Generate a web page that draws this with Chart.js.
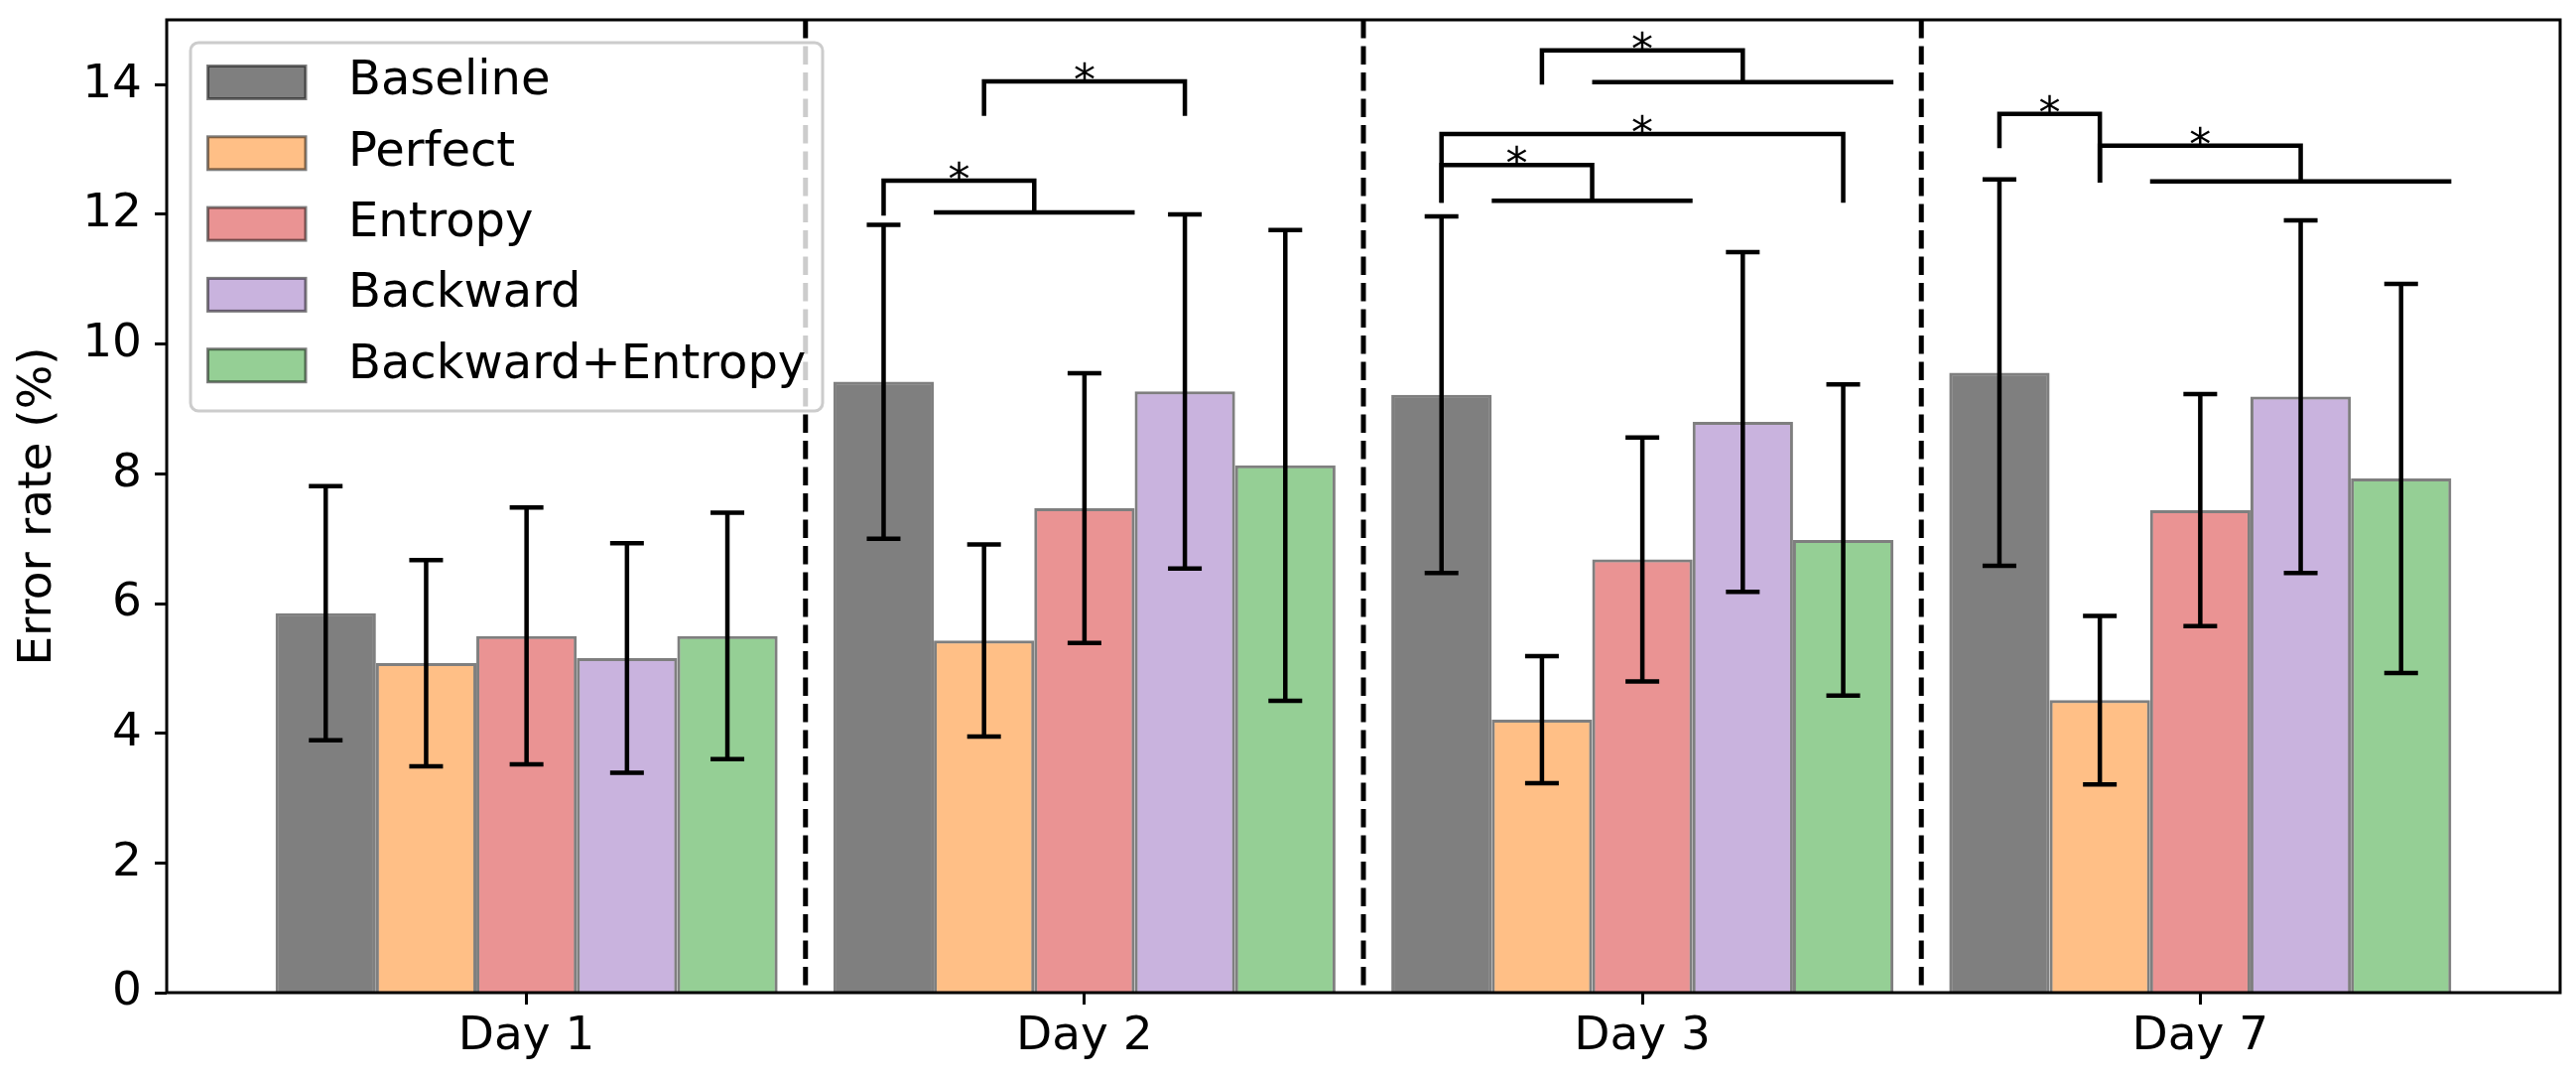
<!DOCTYPE html>
<html>
<head>
<meta charset="utf-8">
<title>Error rate by day</title>
<script src="https://cdn.jsdelivr.net/npm/chart.js@4.4.1/dist/chart.umd.min.js"></script>
<style>
  html, body { margin: 0; padding: 0; background: #fff; }
  #chart { display: block; }
</style>
</head>
<body>
<canvas id="chart" width="2596" height="1087"></canvas>
<script>
// categories (x positions 0..3 on a linear axis, so the margins match the original)
const days = ['Day 1', 'Day 2', 'Day 3', 'Day 7'];
const dayPos = [0, 1, 2, 3];
const separators = [0.5, 1.5, 2.5];
const yTicks = [0, 2, 4, 6, 8, 10, 12, 14];

const methods = ['Baseline', 'Perfect', 'Entropy', 'Backward', 'Backward+Entropy'];

// mean error rate (%)
const baseline = [5.85, 9.42, 9.22, 9.56];
const perfect = [5.08, 5.43, 4.21, 4.51];
const entropy = [5.50, 7.47, 6.68, 7.44];
const backward = [5.16, 9.27, 8.80, 9.19];
const backwardEntropy = [5.50, 8.13, 6.98, 7.93];

// error bar half-length
const baselineErr = [1.96, 2.42, 2.75, 2.98];
const perfectErr = [1.59, 1.48, 0.98, 1.30];
const entropyErr = [1.98, 2.08, 1.88, 1.79];
const backwardErr = [1.77, 2.73, 2.62, 2.72];
const backwardEntropyErr = [1.90, 3.63, 2.40, 3.00];

// significance brackets, in data units:
// [x1, x2, top, leg1 end, leg2 end, group line from, group line to]
const brackets = [
  [0.64, 0.91, 12.52, 11.98, 12.03, 0.73, 1.09],
  [0.82, 1.18, 14.05, 13.52, 13.52, null, null],
  [1.82, 2.18, 14.53, 14.00, 14.04, 1.91, 2.45],
  [1.64, 2.36, 13.24, 12.18, 12.18, null, null],
  [1.64, 1.91, 12.76, 12.18, 12.21, 1.73, 2.09],
  [2.64, 2.82, 13.55, 13.02, 12.49, null, null],
  [2.82, 3.18, 13.06, 12.49, 12.51, 2.91, 3.45]
];

const means = [baseline, perfect, entropy, backward, backwardEntropy];
const errs = [baselineErr, perfectErr, entropyErr, backwardErr, backwardEntropyErr];
const fills = [
  'rgba(0, 0, 0, 0.5)',
  'rgba(255, 127, 14, 0.5)',
  'rgba(214, 39, 40, 0.5)',
  'rgba(148, 103, 189, 0.5)',
  'rgba(44, 160, 44, 0.5)'
];
const edge = 'rgba(0, 0, 0, 0.5)';
const FONT = { family: 'DejaVu Sans', size: 47 };

Chart.defaults.font.family = FONT.family;
Chart.defaults.color = '#000';

const datasets = methods.map((m, i) => ({
  label: m,
  data: dayPos.map((x, j) => ({ x: x, y: means[i][j] })),
  backgroundColor: fills[i],
  borderColor: edge,
  borderWidth: 3,
  categoryPercentage: 0.9,
  barPercentage: 1.0
}));

function noPad(s) {
  s.paddingTop = 0; s.paddingBottom = 0; s.paddingLeft = 0; s.paddingRight = 0;
}

const extras = {
  id: 'extras',
  afterDraw(chart) {
    const ctx = chart.ctx;
    const area = chart.chartArea;
    const xs = chart.scales.x, ys = chart.scales.y;
    ctx.save();

    // dashed day separators
    ctx.strokeStyle = '#000';
    ctx.lineWidth = 5;
    ctx.setLineDash([18.5, 8]);
    separators.forEach(v => {
      const px = xs.getPixelForValue(v);
      ctx.beginPath();
      ctx.moveTo(px, area.top);
      ctx.lineTo(px, area.bottom);
      ctx.stroke();
    });
    ctx.setLineDash([]);

    // error bars
    ctx.lineWidth = 4.5;
    datasets.forEach((ds, i) => {
      chart.getDatasetMeta(i).data.forEach((bar, j) => {
        const hi = ys.getPixelForValue(means[i][j] + errs[i][j]);
        const lo = ys.getPixelForValue(means[i][j] - errs[i][j]);
        ctx.beginPath();
        ctx.moveTo(bar.x, hi); ctx.lineTo(bar.x, lo);
        ctx.moveTo(bar.x - 17, hi); ctx.lineTo(bar.x + 17, hi);
        ctx.moveTo(bar.x - 17, lo); ctx.lineTo(bar.x + 17, lo);
        ctx.stroke();
      });
    });

    // significance brackets
    ctx.lineWidth = 4.5;
    ctx.lineCap = 'butt';
    brackets.forEach(b => {
      const x1 = xs.getPixelForValue(b[0]), x2 = xs.getPixelForValue(b[1]);
      const top = ys.getPixelForValue(b[2]);
      ctx.beginPath();
      ctx.moveTo(x1, ys.getPixelForValue(b[3]));
      ctx.lineTo(x1, top);
      ctx.lineTo(x2, top);
      ctx.lineTo(x2, ys.getPixelForValue(b[4]));
      ctx.stroke();
      if (b[5] !== null) {
        const gy = ys.getPixelForValue(b[4]);
        ctx.beginPath();
        ctx.moveTo(xs.getPixelForValue(b[5]), gy);
        ctx.lineTo(xs.getPixelForValue(b[6]), gy);
        ctx.stroke();
      }
      ctx.fillStyle = '#000';
      ctx.font = '44px "DejaVu Sans"';
      ctx.textAlign = 'center';
      ctx.textBaseline = 'alphabetic';
      ctx.fillText('*', (x1 + x2) / 2, top + 14);
    });

    // axes frame
    ctx.lineWidth = 3;
    ctx.strokeStyle = '#000';
    ctx.strokeRect(area.left, area.top, area.right - area.left, area.bottom - area.top);

    // legend
    const lx = area.left + 24, ly = area.top + 23, lw = 637, lh = 371, r = 8;
    ctx.beginPath();
    ctx.moveTo(lx + r, ly);
    ctx.arcTo(lx + lw, ly, lx + lw, ly + lh, r);
    ctx.arcTo(lx + lw, ly + lh, lx, ly + lh, r);
    ctx.arcTo(lx, ly + lh, lx, ly, r);
    ctx.arcTo(lx, ly, lx + lw, ly, r);
    ctx.closePath();
    ctx.fillStyle = 'rgba(255, 255, 255, 0.8)';
    ctx.fill();
    ctx.strokeStyle = '#cccccc';
    ctx.lineWidth = 3;
    ctx.stroke();

    ctx.font = '48px "DejaVu Sans"';
    ctx.textAlign = 'left';
    ctx.textBaseline = 'middle';
    datasets.forEach((ds, i) => {
      const cy = ly + 40 + i * 71.3;
      ctx.fillStyle = ds.backgroundColor;
      ctx.fillRect(lx + 17.5, cy - 16.5, 98.5, 33);
      ctx.strokeStyle = ds.borderColor;
      ctx.lineWidth = 3;
      ctx.strokeRect(lx + 17.5, cy - 16.5, 98.5, 33);
      ctx.fillStyle = '#000';
      ctx.fillText(ds.label, lx + 159, cy);
    });
    ctx.restore();
  }
};

new Chart(document.getElementById('chart'), {
  type: 'bar',
  data: { datasets: datasets },
  options: {
    responsive: false,
    animation: false,
    devicePixelRatio: 1,
    layout: { padding: { top: 20, right: 16, left: 0, bottom: 0 } },
    plugins: {
      legend: { display: false },
      tooltip: { enabled: false }
    },
    scales: {
      x: {
        type: 'linear',
        min: -0.645,
        max: 3.645,
        offset: false,
        grid: { offset: false, drawOnChartArea: false, tickLength: 12, tickWidth: 3, tickColor: '#000' },
        border: { display: false },
        afterBuildTicks: s => { s.ticks = dayPos.map(v => ({ value: v })); },
        afterFit: s => { s.height = 87; noPad(s); },
        ticks: {
          autoSkip: false,
          maxRotation: 0,
          padding: 5,
          color: '#000',
          font: FONT,
          callback: v => days[dayPos.indexOf(v)]
        }
      },
      y: {
        min: 0,
        max: 15,
        afterBuildTicks: s => { s.ticks = yTicks.map(v => ({ value: v })); },
        afterFit: s => { s.width = 168; noPad(s); },
        grid: { drawOnChartArea: false, tickLength: 12, tickWidth: 3, tickColor: '#000' },
        border: { display: false },
        ticks: { padding: 13, color: '#000', font: FONT },
        title: {
          display: true,
          text: 'Error rate (%)',
          color: '#000',
          font: FONT,
          padding: { top: 11, bottom: 0 }
        }
      }
    }
  },
  plugins: [extras]
});
</script>
</body>
</html>
